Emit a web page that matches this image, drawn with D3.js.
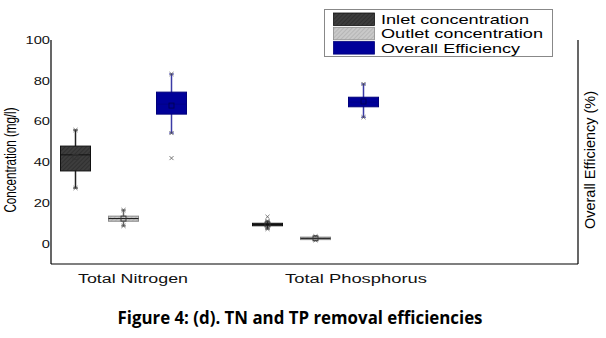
<!DOCTYPE html>
<html>
<head>
<meta charset="utf-8">
<script src="https://cdn.jsdelivr.net/npm/d3@7"></script>
<style>
  body { margin: 0; background: #fff; }
  svg { display: block; font-family: "Liberation Sans", Arial, sans-serif; }
</style>
</head>
<body>
<svg width="606" height="338"></svg>
<script>
// Data (value per [category][series])
const categories = ["Total Nitrogen", "Total Phosphorus"];
const seriesNames = ["Inlet concentration", "Outlet concentration", "Overall Efficiency"];
const whiskLow  = [[27.3, 8.7, 54.3], [7.2, 1.7, 62.1]];
const quart1    = [[35.7, 11.0, 63.6], [8.8, 2.1, 67.2]];
const medians   = [[43.6, 12.3, 68.5], [9.4, 2.6, 69.5]];
const quart3    = [[47.9, 13.5, 74.4], [10.0, 3.2, 71.9]];
const whiskHigh = [[55.8, 16.5, 83.3], [11.1, 3.6, 78.4]];
const means     = [[42.6, 12.3, 67.8], [9.4, 2.6, 69.8]];
const outliers  = [[[], [], [42]], [[13.2], [], []]];
const yTicks = [0, 20, 40, 60, 80, 100];

// layout
var svg = d3.select("svg");
var plotL = 51, plotR = 578, plotT = 40, plotB = 264;
var sx = 1.4; // the source figure is stretched sideways

var y = d3.scaleLinear().domain([-10, 100]).range([plotB, plotT]);
var x = d3.scalePoint().domain(categories).range([123.5, 315.5]);
var xs = d3.scalePoint().domain(seriesNames).range([-48, 48]);
var boxW = 30;

var styles = {
    "Inlet concentration": { fill: "url(#hatchDark)", stroke: "#111", whisk: "#222" },
    "Outlet concentration": { fill: "url(#hatchLight)", stroke: "#8a8a8a", whisk: "#666" },
    "Overall Efficiency": { fill: "#000099", stroke: "#00007a", whisk: "#3b3ba6" }
};

// hatch patterns
var defs = svg.append("defs");
function hatch(id, bg, line) {
    var p = defs.append("pattern")
        .attr("id", id)
        .attr("patternUnits", "userSpaceOnUse")
        .attr("width", 3).attr("height", 3)
        .attr("patternTransform", "rotate(45)");
    p.append("rect").attr("width", 3).attr("height", 3).attr("fill", bg);
    p.append("line").attr("x1", 0).attr("y1", 0).attr("x2", 0).attr("y2", 3)
        .attr("stroke", line).attr("stroke-width", 1.2);
}
hatch("hatchDark", "#3d3d3d", "#262626");
hatch("hatchLight", "#c9c9c9", "#a9a9a9");

// axes lines
var axis = svg.append("g").attr("stroke", "#000").attr("stroke-width", 1.2);
axis.append("line").attr("x1", plotL).attr("x2", plotL).attr("y1", plotT).attr("y2", plotB);
axis.append("line").attr("x1", plotR).attr("x2", plotR).attr("y1", plotT).attr("y2", plotB);
axis.append("line").attr("x1", plotL).attr("x2", plotR).attr("y1", plotB).attr("y2", plotB);

// y tick labels
var yAxis = svg.append("g")
    .attr("transform", "translate(" + plotL + ",0)")
    .call(d3.axisLeft(y).tickValues(yTicks).tickSize(0).tickPadding(1));
yAxis.select(".domain").remove();
yAxis.selectAll("text")
    .attr("font-family", "'Liberation Sans', Arial, sans-serif")
    .attr("font-size", 10.5)
    .attr("fill", "#111")
    .attr("x", -1 / sx)
    .attr("transform", "scale(" + sx + ",1)");

// boxes
var data = [];
categories.forEach(function (c, ci) {
    seriesNames.forEach(function (s, si) {
        data.push({
            cat: c, ser: s,
            lo: whiskLow[ci][si], q1: quart1[ci][si], med: medians[ci][si],
            q3: quart3[ci][si], hi: whiskHigh[ci][si], mean: means[ci][si],
            out: outliers[ci][si]
        });
    });
});

var cross = d3.symbol().type(d3.symbolTimes).size(12);

var g = svg.selectAll(".box")
    .data(data)
    .enter().append("g")
    .attr("class", "box")
    .attr("transform", function (d) { return "translate(" + (x(d.cat) + xs(d.ser)) + ",0)"; });

// whiskers
g.append("line")
    .attr("y1", function (d) { return y(d.lo); })
    .attr("y2", function (d) { return y(d.hi); })
    .attr("stroke", function (d) { return styles[d.ser].whisk; })
    .attr("stroke-width", 1.5);
["lo", "hi"].forEach(function (k) {
    g.append("line")
        .attr("x1", -2.5).attr("x2", 2.5)
        .attr("y1", function (d) { return y(d[k]); })
        .attr("y2", function (d) { return y(d[k]); })
        .attr("stroke", function (d) { return styles[d.ser].whisk; })
        .attr("stroke-width", 1);
    g.append("path")
        .attr("d", cross)
        .attr("transform", function (d) { return "translate(0," + y(d[k]) + ")"; })
        .attr("fill", "none")
        .attr("stroke", "#444")
        .attr("stroke-width", 0.8);
});

// box
g.append("rect")
    .attr("x", -boxW / 2)
    .attr("width", boxW)
    .attr("y", function (d) { return y(d.q3); })
    .attr("height", function (d) { return Math.max(2.5, y(d.q1) - y(d.q3)); })
    .attr("fill", function (d) { return styles[d.ser].fill; })
    .attr("stroke", function (d) { return styles[d.ser].stroke; })
    .attr("stroke-width", 1);

// median
g.append("line")
    .attr("x1", -boxW / 2).attr("x2", boxW / 2)
    .attr("y1", function (d) { return y(d.med); })
    .attr("y2", function (d) { return y(d.med); })
    .attr("stroke", function (d) { return d.ser == "Overall Efficiency" ? "#000088" : "#111"; })
    .attr("stroke-width", 1);

// mean marker
g.append("rect")
    .attr("x", -2.5).attr("width", 5)
    .attr("y", function (d) { return y(d.mean) - 2.5; })
    .attr("height", 5)
    .attr("fill", "none")
    .attr("stroke", function (d) { return d.ser == "Overall Efficiency" ? "#000055" : "#333"; })
    .attr("stroke-width", 0.9);

// outliers
g.selectAll(".out")
    .data(function (d) { return d.out; })
    .enter().append("path")
    .attr("class", "out")
    .attr("d", cross)
    .attr("transform", function (v) { return "translate(0," + y(v) + ")"; })
    .attr("fill", "none")
    .attr("stroke", "#555")
    .attr("stroke-width", 0.8);

// category labels
var catLabelX = [78, 285], catLabelW = [110, 142];
svg.selectAll(".cat")
    .data(categories)
    .enter().append("text")
    .attr("class", "cat")
    .attr("x", function (d, i) { return catLabelX[i]; })
    .attr("y", 283)
    .attr("font-size", 12.5)
    .attr("fill", "#111")
    .attr("textLength", function (d, i) { return catLabelW[i]; })
    .attr("lengthAdjust", "spacingAndGlyphs")
    .text(function (d) { return d; });

// axis titles
svg.append("text")
    .attr("transform", "translate(16,160) scale(1.25,1) rotate(-90)")
    .attr("text-anchor", "middle")
    .attr("font-size", 12.5)
    .attr("textLength", 105)
    .attr("lengthAdjust", "spacingAndGlyphs")
    .text("Concentration (mg/l)");
svg.append("text")
    .attr("transform", "translate(595,160) scale(1.2,1) rotate(-90)")
    .attr("text-anchor", "middle")
    .attr("font-size", 12)
    .attr("textLength", 138)
    .attr("lengthAdjust", "spacingAndGlyphs")
    .text("Overall Efficiency (%)");

// legend
var legend = svg.append("g");
legend.append("rect")
    .attr("x", 324.5).attr("y", 9.5)
    .attr("width", 228).attr("height", 47)
    .attr("fill", "#fff")
    .attr("stroke", "#888");
var legW = [148, 162, 139];
var row = legend.selectAll(".leg")
    .data(seriesNames)
    .enter().append("g")
    .attr("class", "leg")
    .attr("transform", function (d, i) { return "translate(0," + (13 + i * 14.3) + ")"; });
row.append("rect")
    .attr("x", 333.5).attr("y", 0)
    .attr("width", 41).attr("height", 12.5)
    .attr("fill", function (d) { return styles[d].fill; })
    .attr("stroke", function (d) { return styles[d].stroke; })
    .attr("stroke-width", 0.8);
row.append("text")
    .attr("x", 381)
    .attr("y", 11)
    .attr("font-size", 13)
    .attr("fill", "#000")
    .attr("textLength", function (d, i) { return legW[i]; })
    .attr("lengthAdjust", "spacingAndGlyphs")
    .text(function (d) { return d; });

// caption
svg.append("text")
    .attr("x", 300)
    .attr("y", 324)
    .attr("text-anchor", "middle")
    .attr("font-family", "'Open Sans', 'Liberation Sans', sans-serif")
    .attr("font-weight", "bold")
    .attr("font-size", 18)
    .attr("textLength", 365)
    .attr("lengthAdjust", "spacingAndGlyphs")
    .text("Figure 4: (d). TN and TP removal efficiencies");
</script>
</body>
</html>
